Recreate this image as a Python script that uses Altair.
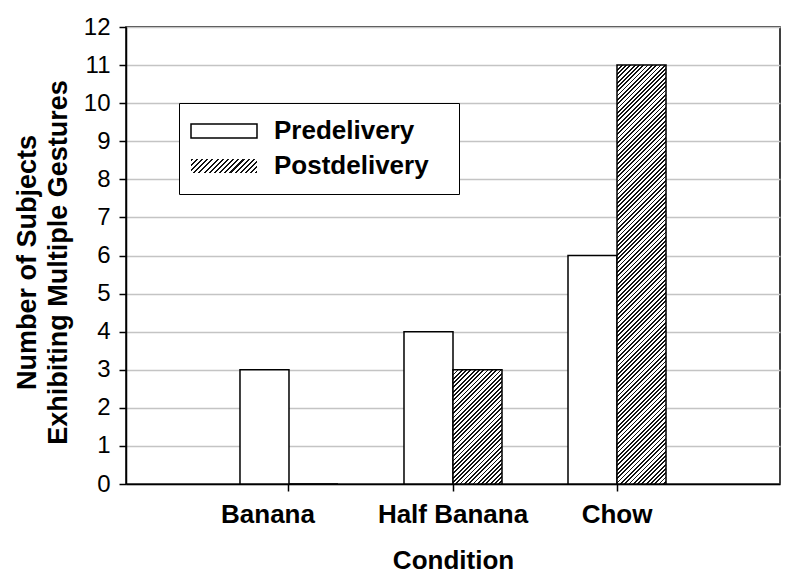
import altair as alt
import pandas as pd

# ---- data ----
conditions = ["Banana", "Half Banana", "Chow"]
predelivery = [3, 4, 6]
postdelivery = [0, 3, 11]
periods = ["Predelivery", "Postdelivery"]
y_ticks = list(range(0, 13))

rows = []
for c, pre, post in zip(conditions, predelivery, postdelivery):
    rows.append({"Condition": c, "Period": periods[0], "Count": pre})
    rows.append({"Condition": c, "Period": periods[1], "Count": post})
df = pd.DataFrame(rows)

# ---- layout ----
W, H = 654, 457
YMAX = 12
P_INNER, P_OUTER = 0.4024, 0.695
step = W / (len(conditions) - P_INNER + 2 * P_OUTER)
bar_w = step * (1 - P_INNER) / 2
FONT = "Liberation Sans"
NBSP = chr(160)
ZWSP = chr(0x200B)

LEG_X, LEG_Y, LEG_PAD, LEG_ROW = 53, 76, 15, 9
ROW_H = 26
# wide legend swatch (66 x 14 px): nominal size 14 px, path stretched sideways
SYM_SIZE = 196
SYM_PATH = "M-4.714,-1H4.714V1H-4.714Z"


def hatch(w, h, period=4.3, ink=0.42):
    """Diagonal '/' hatching as a sharp-stop linear gradient (bbox units)."""
    n = (w + h) / period
    a = (w + h) / (w * w + h * h)
    stops = []
    k = 0
    while k < n:
        o0 = min(k / n, 1)
        o1 = min((k + ink) / n, 1)
        o2 = min((k + 1) / n, 1)
        stops += [
            {"offset": o0, "color": "#111111"},
            {"offset": o1, "color": "#111111"},
            {"offset": o1, "color": "#ffffff"},
            {"offset": o2, "color": "#ffffff"},
        ]
        k += 1
    return {"gradient": "linear", "x1": 0, "y1": 0, "x2": a * w, "y2": a * h, "stops": stops}


post_conditions = [{"test": "false", "value": hatch(66, 14, 5.2)}]
for c, v in zip(conditions, postdelivery):
    if v > 0:
        post_conditions.append(
            {"test": f"datum.Condition === '{c}'", "value": hatch(bar_w, v * H / YMAX)}
        )
post_conditions.append({"test": "true", "value": "white"})

x_enc = alt.X(
    "Condition:N",
    sort=conditions,
    scale=alt.Scale(domain=conditions, paddingInner=P_INNER, paddingOuter=P_OUTER),
    axis=alt.Axis(
        title="Condition",
        labelAngle=0,
        labelFont=FONT,
        labelFontSize=26,
        labelFontWeight="bold",
        labelColor="black",
        labelPadding=10,
        labelOffset={"condition": {"test": "datum.value === 'Banana'", "value": -21}, "value": 0},
        tickSize=7,
        tickColor="black",
        tickWidth=1.5,
        domainColor="black",
        domainWidth=1.5,
        grid=False,
        titleFont=FONT,
        titleFontSize=26,
        titleFontWeight="bold",
        titleColor="black",
        titlePadding=20,
    ),
)
xoff_enc = alt.XOffset("Period:N", sort=periods, scale=alt.Scale(domain=periods))
y_enc = alt.Y(
    "Count:Q",
    scale=alt.Scale(domain=[0, YMAX], nice=False),
    axis=alt.Axis(
        values=y_ticks,
        title=["Number of Subjects", "Exhibiting Multiple Gestures"],
        labelFont=FONT,
        labelFontSize=24,
        labelColor="black",
        labelPadding=9,
        tickSize=7,
        tickColor="black",
        tickWidth=1.5,
        domainColor="black",
        domainWidth=1.5,
        gridColor="#c4c4c4",
        gridWidth=1.3,
        titleFont=FONT,
        titleFontSize=27,
        titleFontWeight="bold",
        titleColor="black",
        titleLineHeight=31,
        titlePadding=11,
        titleY=235,
    ),
)

common_legend = dict(
    title=None,
    orient="none",
    symbolType=SYM_PATH,
    symbolSize=SYM_SIZE,
    symbolStrokeWidth=1.5,
    symbolOffset=17,
    labelFont=FONT,
    labelFontSize=26,
    labelFontWeight="bold",
    labelColor="black",
    labelOffset=37,
    labelLimit=400,
    rowPadding=LEG_ROW,
)

# Legend box with the first entry (second row kept invisible, overlaid below)
legend_box = alt.Legend(
    legendX=LEG_X,
    legendY=LEG_Y,
    padding=LEG_PAD,
    strokeColor="black",
    fillColor="white",
    labelExpr="datum.value === 'Postdelivery' ? ' ' : datum.label + '"
    + NBSP * 4
    + ZWSP
    + "'",
    **common_legend,
)
# Hatched entry, placed on the second row of the box
legend_post = alt.Legend(
    legendX=LEG_X + LEG_PAD,
    legendY=LEG_Y + LEG_PAD + ROW_H + LEG_ROW,
    padding=0,
    symbolStrokeColor="black",
    **common_legend,
)

pre_layer = (
    alt.Chart(df)
    .transform_filter(alt.datum.Period == "Predelivery")
    .mark_bar(fill="white", strokeWidth=1.5)
    .encode(
        x=x_enc,
        xOffset=xoff_enc,
        y=y_enc,
        stroke=alt.Stroke(
            "Period:N",
            sort=periods,
            scale=alt.Scale(domain=periods, range=["black", "white"]),
            legend=legend_box,
        ),
    )
)

post_layer = (
    alt.Chart(df)
    .transform_filter(alt.datum.Period == "Postdelivery")
    .mark_bar(stroke="black", strokeWidth=1.5)
    .encode(
        x=x_enc,
        xOffset=xoff_enc,
        y=y_enc,
        fill={"condition": post_conditions},
        opacity=alt.Opacity(
            "Period:N",
            scale=alt.Scale(type="ordinal", domain=["Postdelivery"], range=[1]),
            legend=legend_post,
        ),
    )
)

chart = (
    alt.layer(pre_layer, post_layer)
    .properties(
        width=W,
        height=H,
        autosize=alt.AutoSizeParams(type="none"),
        padding={"left": 118, "top": 19, "right": 12, "bottom": 87},
        background="white",
    )
    .configure_view(stroke="black", strokeWidth=1.5)
)

chart.save("out.html", embed_options={"renderer": "svg", "actions": False})
